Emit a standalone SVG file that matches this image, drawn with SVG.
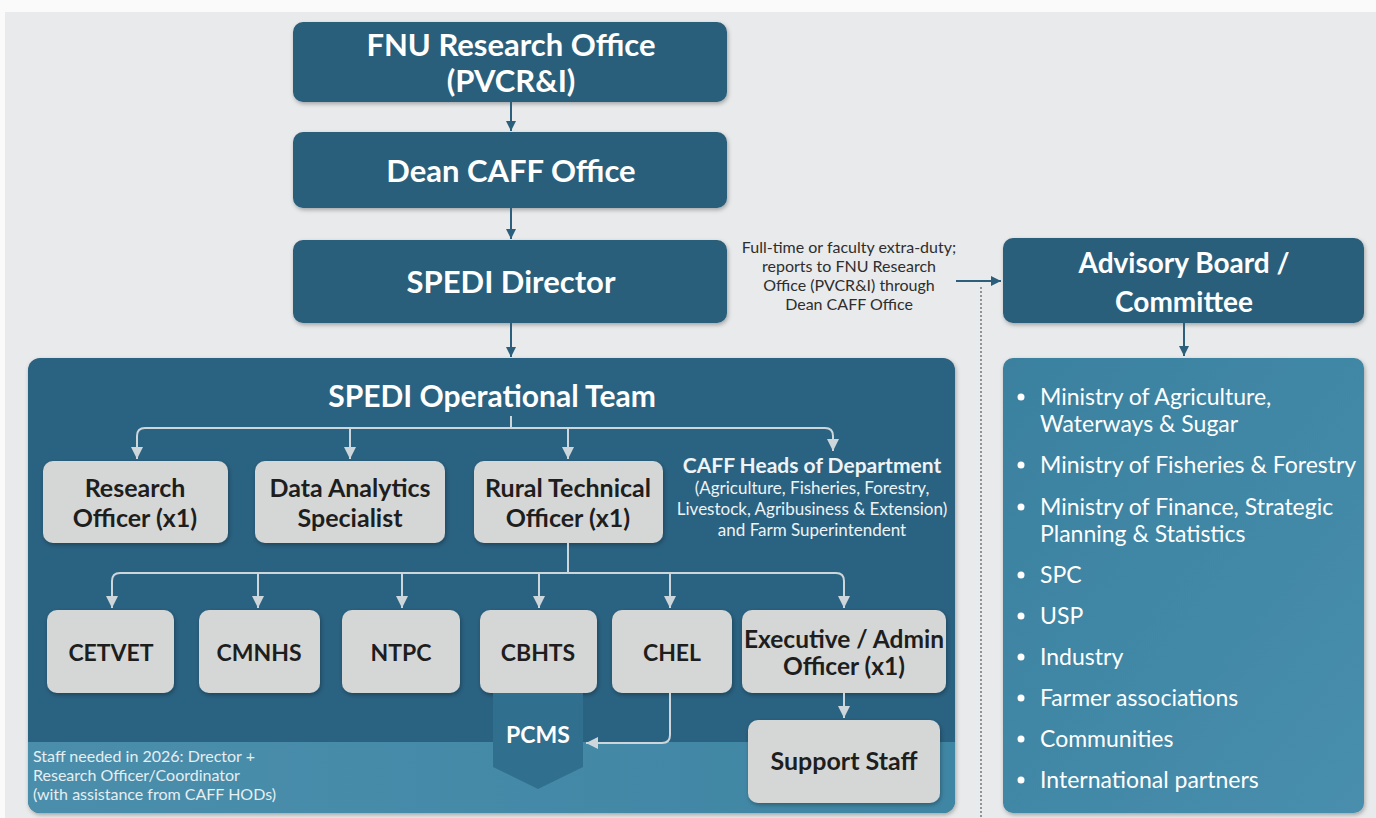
<svg xmlns="http://www.w3.org/2000/svg" width="1376" height="818" viewBox="0 0 1376 818">
  <defs>
    <style>
      .dark { fill: #2b5f7b; }
      .grey { fill: #d5d7d7; }
      .hd { font-family: Lato, "Liberation Sans", sans-serif; font-weight: 700; fill: #ffffff; text-anchor: middle; }
      .lbl { font-family: Lato, "Liberation Sans", sans-serif; font-weight: 700; fill: #1e1e1e; text-anchor: middle; }
      .note { font-family: Lato, "Liberation Sans", sans-serif; font-size: 16px; fill: #2e2e2e; text-anchor: middle; }
      .foot { font-family: Lato, "Liberation Sans", sans-serif; font-size: 16px; fill: #e6eef2; }
      .caff { font-family: Lato, "Liberation Sans", sans-serif; fill: #eef3f6; text-anchor: middle; }
      .item { font-family: Lato, "Liberation Sans", sans-serif; font-size: 23px; fill: #ffffff; }
      .outer { fill: none; stroke: #2b5f7b; stroke-width: 2; }
      .inner { fill: none; stroke: #cdd6db; stroke-width: 2; }
    </style>
    <marker id="arrowDark" markerUnits="userSpaceOnUse" markerWidth="12" markerHeight="12" refX="10" refY="5" orient="auto">
      <path d="M0,0 L10,5 L0,10 z" fill="#2b5f7b"/>
    </marker>
    <marker id="arrowLight" markerUnits="userSpaceOnUse" markerWidth="14" markerHeight="14" refX="12" refY="6" orient="auto">
      <path d="M0,0 L12,6 L0,12 z" fill="#cdd6db"/>
    </marker>
    <filter id="shadow" x="-10%" y="-10%" width="120%" height="130%">
      <feDropShadow dx="1" dy="2" stdDeviation="2" flood-color="#000" flood-opacity="0.3"/>
    </filter>
    <linearGradient id="listFill" x1="0" y1="0" x2="1" y2="1">
      <stop offset="0" stop-color="#3a819f"/>
      <stop offset="1" stop-color="#488ead"/>
    </linearGradient>
    <linearGradient id="bandFill" x1="0" y1="0" x2="1" y2="0">
      <stop offset="0" stop-color="#4a8eab"/>
      <stop offset="1" stop-color="#3f86a4"/>
    </linearGradient>
    <clipPath id="teamClip">
      <rect x="28" y="358" width="927" height="455" rx="12"/>
    </clipPath>
  </defs>

  <!-- page -->
  <rect x="0" y="0" width="1376" height="818" fill="#fafafa"/>
  <rect x="5" y="12" width="1371" height="806" fill="#e8eaeb"/>

  <!-- top chain -->
  <g id="fnu-research-office">
    <rect class="dark" x="293" y="22" width="434" height="80" rx="10" filter="url(#shadow)"/>
    <text class="hd" x="511" y="56" font-size="31">FNU Research Office</text>
    <text class="hd" x="511" y="92" font-size="31">(PVCR&amp;I)</text>
  </g>
  <g id="dean-caff-office">
    <rect class="dark" x="293" y="132" width="434" height="76" rx="10" filter="url(#shadow)"/>
    <text class="hd" x="511" y="182" font-size="31">Dean CAFF Office</text>
  </g>
  <g id="spedi-director">
    <rect class="dark" x="293" y="240" width="434" height="83" rx="10" filter="url(#shadow)"/>
    <text class="hd" x="511" y="293" font-size="31">SPEDI Director</text>
  </g>
  <g id="director-note">
    <text class="note" x="849" y="253">Full-time or faculty extra-duty;</text>
    <text class="note" x="849" y="272">reports to FNU Research</text>
    <text class="note" x="849" y="291">Office (PVCR&amp;I) through</text>
    <text class="note" x="849" y="310">Dean CAFF Office</text>
  </g>

  <!-- operational team container -->
  <g id="spedi-operational-team">
    <rect x="28" y="358" width="927" height="455" rx="12" fill="#2c6281" filter="url(#shadow)"/>
    <rect x="28" y="742" width="927" height="71" fill="url(#bandFill)" clip-path="url(#teamClip)"/>
    <text class="hd" x="492" y="407" font-size="30">SPEDI Operational Team</text>
  </g>
  <g id="staff-note">
    <text class="foot" x="33" y="762">Staff needed in 2026: Drector +</text>
    <text class="foot" x="33" y="781">Research Officer/Coordinator</text>
    <text class="foot" x="33" y="800">(with assistance from CAFF HODs)</text>
  </g>

  <!-- first row -->
  <g id="research-officer">
    <rect class="grey" x="43" y="461" width="185" height="82" rx="10" filter="url(#shadow)"/>
    <text class="lbl" x="135" y="497" font-size="25">Research</text>
    <text class="lbl" x="135" y="527" font-size="25">Officer (x1)</text>
  </g>
  <g id="data-analytics-specialist">
    <rect class="grey" x="255" y="461" width="190" height="82" rx="10" filter="url(#shadow)"/>
    <text class="lbl" x="350" y="497" font-size="25">Data Analytics</text>
    <text class="lbl" x="350" y="527" font-size="25">Specialist</text>
  </g>
  <g id="rural-technical-officer">
    <rect class="grey" x="474" y="461" width="189" height="82" rx="10" filter="url(#shadow)"/>
    <text class="lbl" x="568" y="497" font-size="25">Rural Technical</text>
    <text class="lbl" x="568" y="527" font-size="25">Officer (x1)</text>
  </g>
  <g id="caff-heads">
    <text class="caff" x="812" y="473" font-size="21" font-weight="700">CAFF Heads of Department</text>
    <text class="caff" x="812" y="494" font-size="17">(Agriculture, Fisheries, Forestry,</text>
    <text class="caff" x="812" y="515" font-size="17">Livestock, Agribusiness &amp; Extension)</text>
    <text class="caff" x="812" y="536" font-size="17">and Farm Superintendent</text>
  </g>

  <!-- second row -->
  <g id="cetvet">
    <rect class="grey" x="47" y="610" width="127" height="83" rx="10" filter="url(#shadow)"/>
    <text class="lbl" x="111" y="661" font-size="23">CETVET</text>
  </g>
  <g id="cmnhs">
    <rect class="grey" x="199" y="610" width="121" height="83" rx="10" filter="url(#shadow)"/>
    <text class="lbl" x="259" y="661" font-size="23">CMNHS</text>
  </g>
  <g id="ntpc">
    <rect class="grey" x="342" y="610" width="118" height="83" rx="10" filter="url(#shadow)"/>
    <text class="lbl" x="401" y="661" font-size="23">NTPC</text>
  </g>
  <g id="cbhts">
    <rect class="grey" x="480" y="610" width="117" height="83" rx="10" filter="url(#shadow)"/>
    <text class="lbl" x="538" y="661" font-size="23">CBHTS</text>
  </g>
  <g id="chel">
    <rect class="grey" x="612" y="610" width="120" height="83" rx="10" filter="url(#shadow)"/>
    <text class="lbl" x="672" y="661" font-size="23">CHEL</text>
  </g>
  <g id="executive-admin-officer">
    <rect class="grey" x="742" y="610" width="204" height="83" rx="10" filter="url(#shadow)"/>
    <text class="lbl" x="844" y="648" font-size="24.5">Executive / Admin</text>
    <text class="lbl" x="844" y="675" font-size="24.5">Officer (x1)</text>
  </g>
  <g id="pcms">
    <polygon points="493,693 583,693 583,767 538,789 493,767" fill="#316f8e"/>
    <text class="hd" x="538" y="743" font-size="23">PCMS</text>
  </g>
  <g id="support-staff">
    <rect class="grey" x="748" y="720" width="192" height="83" rx="10" filter="url(#shadow)"/>
    <text class="lbl" x="844" y="770" font-size="25">Support Staff</text>
  </g>

  <!-- advisory side -->
  <g id="advisory-board">
    <rect class="dark" x="1003" y="238" width="361" height="85" rx="10" filter="url(#shadow)"/>
    <text class="hd" x="1184" y="273" font-size="28">Advisory Board /</text>
    <text class="hd" x="1184" y="312" font-size="28">Committee</text>
  </g>
  <g id="advisory-members">
    <rect x="1003" y="358" width="361" height="455" rx="10" fill="url(#listFill)" filter="url(#shadow)"/>
    <g fill="#ffffff">
      <circle cx="1021" cy="397" r="3.5"/>
      <circle cx="1021" cy="465" r="3.5"/>
      <circle cx="1021" cy="507" r="3.5"/>
      <circle cx="1021" cy="575" r="3.5"/>
      <circle cx="1021" cy="616" r="3.5"/>
      <circle cx="1021" cy="657" r="3.5"/>
      <circle cx="1021" cy="698" r="3.5"/>
      <circle cx="1021" cy="739" r="3.5"/>
      <circle cx="1021" cy="780" r="3.5"/>
    </g>
    <text class="item" x="1040" y="405">Ministry of Agriculture,</text>
    <text class="item" x="1040" y="432">Waterways &amp; Sugar</text>
    <text class="item" x="1040" y="473">Ministry of Fisheries &amp; Forestry</text>
    <text class="item" x="1040" y="515">Ministry of Finance, Strategic</text>
    <text class="item" x="1040" y="542">Planning &amp; Statistics</text>
    <text class="item" x="1040" y="583">SPC</text>
    <text class="item" x="1040" y="624">USP</text>
    <text class="item" x="1040" y="665">Industry</text>
    <text class="item" x="1040" y="706">Farmer associations</text>
    <text class="item" x="1040" y="747">Communities</text>
    <text class="item" x="1040" y="788">International partners</text>
  </g>

  <!-- connectors -->
  <g id="connectors">
    <path class="outer" d="M511,102 V131" marker-end="url(#arrowDark)"/>
    <path class="outer" d="M511,208 V239" marker-end="url(#arrowDark)"/>
    <path class="outer" d="M511,323 V357" marker-end="url(#arrowDark)"/>
    <path class="outer" d="M1184,323 V356" marker-end="url(#arrowDark)"/>
    <path class="outer" d="M956,281 H1001" marker-end="url(#arrowDark)"/>
    <path d="M981,287 V818" fill="none" stroke="#6f7a80" stroke-width="1.5" stroke-dasharray="2 2"/>

    <!-- team to first row -->
    <path class="inner" d="M511,416 V428"/>
    <path class="inner" d="M145,428 H825"/>
    <path class="inner" d="M150,428 H145 Q137,428 137,436 V459" marker-end="url(#arrowLight)"/>
    <path class="inner" d="M350,428 V459" marker-end="url(#arrowLight)"/>
    <path class="inner" d="M568,428 V459" marker-end="url(#arrowLight)"/>
    <path class="inner" d="M820,428 H825 Q833,428 833,436 V451" marker-end="url(#arrowLight)"/>

    <!-- rural technical officer to second row -->
    <path class="inner" d="M568,543 V573"/>
    <path class="inner" d="M120,573 H836"/>
    <path class="inner" d="M125,573 H120 Q112,573 112,581 V608" marker-end="url(#arrowLight)"/>
    <path class="inner" d="M258,573 V608" marker-end="url(#arrowLight)"/>
    <path class="inner" d="M402,573 V608" marker-end="url(#arrowLight)"/>
    <path class="inner" d="M539,573 V608" marker-end="url(#arrowLight)"/>
    <path class="inner" d="M670,573 V608" marker-end="url(#arrowLight)"/>
    <path class="inner" d="M831,573 H836 Q844,573 844,581 V608" marker-end="url(#arrowLight)"/>

    <!-- lower links -->
    <path class="inner" d="M670,693 V735 Q670,743 662,743 H586" marker-end="url(#arrowLight)"/>
    <path class="inner" d="M844,693 V718" marker-end="url(#arrowLight)"/>
  </g>
</svg>
